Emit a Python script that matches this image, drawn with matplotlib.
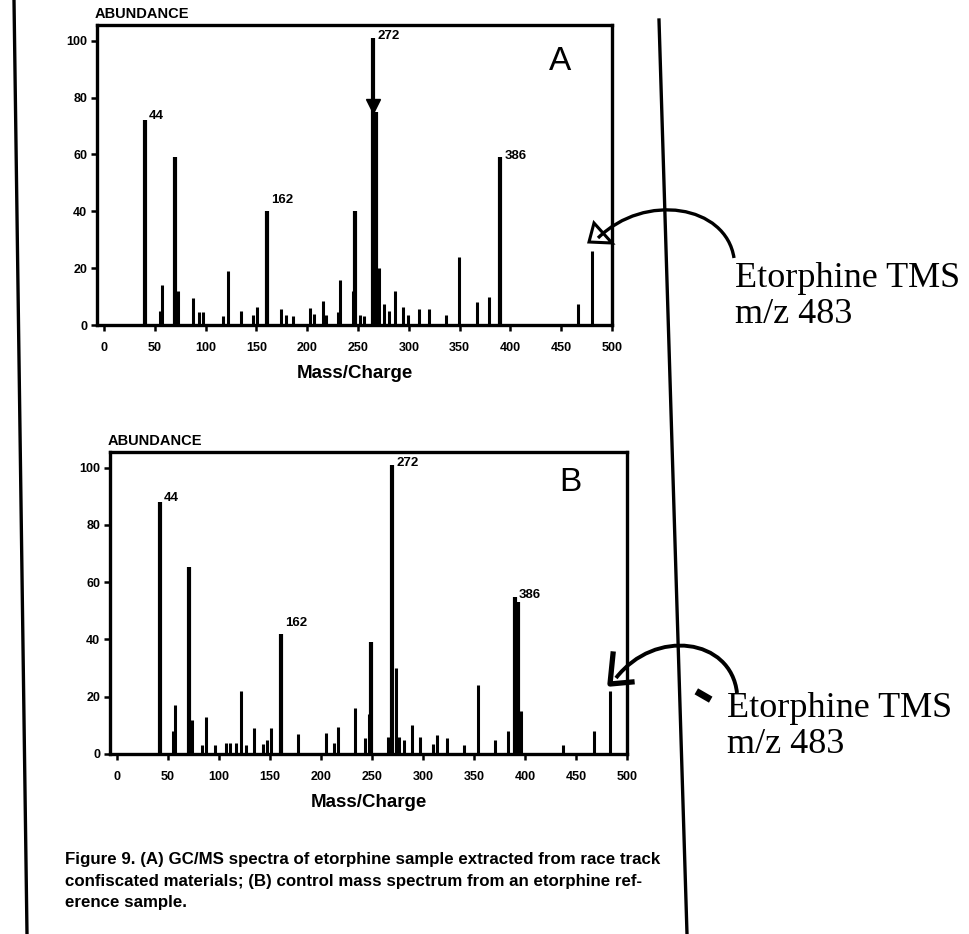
import matplotlib.pyplot as plt
from matplotlib.path import Path
from matplotlib.patches import PathPatch, Polygon

# spectrum A: sample from race track materials
mz_a = [40, 55, 57, 70, 73, 88, 93, 97, 117, 122, 135, 147, 151, 160, 174, 179, 186,
        203, 207, 215, 218, 230, 232, 245, 247, 252, 256, 265, 268, 271, 276, 280, 286,
        294, 299, 310, 320, 337, 349, 367, 379, 390, 467, 480]
ab_a = [72, 5, 14, 59, 12, 9.5, 4.5, 4.5, 3, 19, 5, 3.5, 6.5, 40, 5.5, 3.5, 3,
        6, 4, 8.5, 3.5, 4.5, 16, 12, 40, 3.5, 3, 101, 75, 20, 7.5, 5, 12,
        6.5, 3.5, 5.5, 5.5, 3.5, 24, 8, 10, 59, 7.5, 26]

# spectrum B: etorphine reference
mz_b = [42, 55, 57, 70, 73, 83, 87, 96, 107, 111, 117, 121, 126, 134, 143, 147, 151,
        161, 177, 205, 213, 217, 233, 243, 247, 249, 266, 270, 273, 276, 281, 289, 297,
        310, 314, 323, 340, 354, 371, 383, 390, 393, 396, 437, 468, 483]
ab_b = [88, 8, 17, 65.5, 12, 3, 13, 3, 4, 4, 4, 22, 3, 9, 3.5, 5, 9,
        42, 7, 7.5, 4, 9.5, 16, 5.5, 14, 39, 6, 101, 30, 6, 5, 10, 6,
        3.5, 6.5, 5.5, 3, 24, 5, 8, 55, 53, 15, 3, 8, 22]

# labelled peaks: text, position of the peak
lab_text = ['44', '162', '272', '386']
lab_x_a = [40, 160, 265, 390]
lab_y_a = [72, 40, 101, 59]
lab_x_b = [42, 161, 270, 390]
lab_y_b = [88, 42, 101, 55]

xticks = [0, 50, 100, 150, 200, 250, 300, 350, 400, 450, 500]
yticks = [0, 20, 40, 60, 80, 100]

W, H = 969, 934
fig = plt.figure(figsize=(W / 100, H / 100), dpi=100)
plt.rcParams['font.family'] = ['Liberation Sans', 'DejaVu Sans']


def spectrum(rect, mz, ab, lx, ly, letter, letter_pos, lab_dy):
    ax = fig.add_axes(rect)
    lws = [3.0 if v > 30 else 2.2 for v in ab]
    ax.vlines(mz, 0, ab, colors='black', linewidths=lws)
    ax.set_xlim(-7, 500)
    ax.set_ylim(0, 105.5)
    ax.set_xticks(xticks)
    ax.set_yticks(yticks)
    ax.tick_params(direction='out', length=4, width=1.8, labelsize=9)
    ax.tick_params(axis='x', pad=8)
    ax.tick_params(axis='y', pad=3)
    for t in ax.get_xticklabels() + ax.get_yticklabels():
        t.set_fontweight('bold')
    for s in ax.spines.values():
        s.set_linewidth(2.4)
    ax.set_xlabel('Mass/Charge', fontsize=13.5, fontweight='bold', labelpad=8)
    ax.text(-0.005, 1.012, 'ABUNDANCE', transform=ax.transAxes, fontsize=10.5,
            fontweight='bold', ha='left', va='bottom')
    for t, x, y, dy in zip(lab_text, lx, ly, lab_dy):
        ax.annotate(t, (x, y), xytext=(3, dy), textcoords='offset points',
                    fontsize=9.5, fontweight='bold', ha='left', va='center')
    ax.text(letter_pos[0], letter_pos[1], letter, transform=ax.transAxes,
            fontsize=24, ha='center', va='center')
    return ax


ax_a = spectrum([97 / W, 1 - 325 / H, 515 / W, 300 / H], mz_a, ab_a,
                lab_x_a, lab_y_a, 'A', (0.90, 0.877), [3, 8, 1, 1])
# hand drawn mark on the base peak
ax_a.plot([265], [77], marker='v', color='black', markersize=10)

ax_b = spectrum([110 / W, 1 - 754 / H, 517 / W, 302 / H], mz_b, ab_b,
                lab_x_b, lab_y_b, 'B', (0.89, 0.90), [3, 8, 1, 1])

# overlay in pixel coordinates for the page and the handwriting
ov = fig.add_axes([0, 0, 1, 1], facecolor='none')
ov.set_xlim(0, W)
ov.set_ylim(H, 0)
ov.axis('off')

ov.plot([14, 27], [0, H], color='black', lw=2.4)
ov.plot([659, 687], [20, H], color='black', lw=2.4)

# arrow to panel A
ov.add_patch(PathPatch(Path([(734, 258), (726, 205), (645, 192), (598, 238)],
                            [Path.MOVETO, Path.CURVE4, Path.CURVE4, Path.CURVE4]),
                       fill=False, lw=2.4, color='black'))
ov.add_patch(Polygon([(589, 242), (594, 223), (612, 243)], closed=True,
                     fill=False, lw=2.2, edgecolor='black'))
# arrow to panel B
ov.add_patch(PathPatch(Path([(737, 693), (731, 638), (655, 628), (616, 678)],
                            [Path.MOVETO, Path.CURVE4, Path.CURVE4, Path.CURVE4]),
                       fill=False, lw=2.8, color='black'))
ov.plot([613, 610, 632], [654, 684, 682], color='black', lw=3.8)
ov.plot([703], [695], marker=(2, 0, 60), color='black', markersize=12, mew=5)

for x0, y0 in ((735, 262), (727, 692)):
    ov.text(x0, y0, 'Etorphine TMS\nm/z 483',
            family=['Liberation Serif', 'DejaVu Serif'], fontsize=26,
            ha='left', va='top', linespacing=1.12)

caption = ('Figure 9. (A) GC/MS spectra of etorphine sample extracted from race track\n'
           'confiscated materials; (B) control mass spectrum from an etorphine ref-\n'
           'erence sample.')
ov.text(65, 852, caption, fontsize=12.2, fontweight='bold', ha='left', va='top',
        linespacing=1.55)

fig.savefig('out.png', dpi=100)
